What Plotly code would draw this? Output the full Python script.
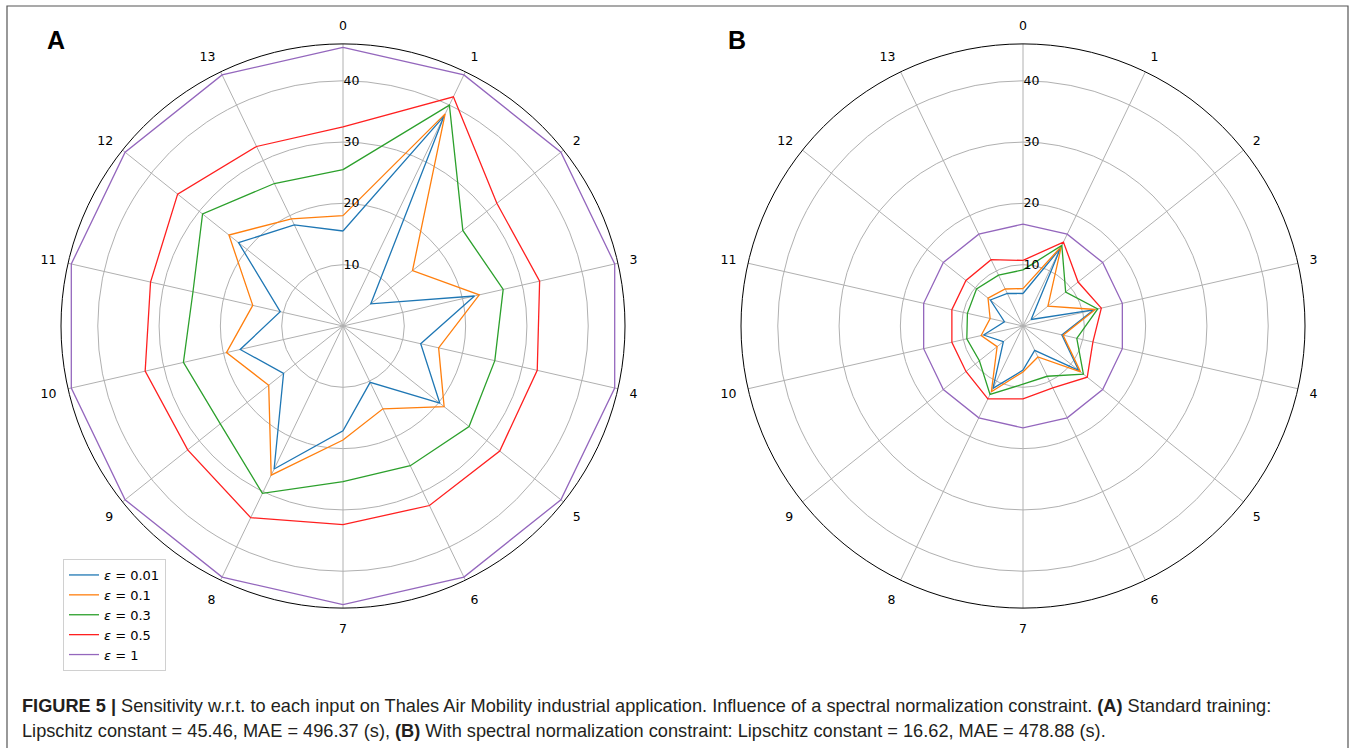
import plotly.graph_objects as go

categories = [str(i) for i in range(14)]
labels = ["<i>ε</i> = 0.01", "<i>ε</i> = 0.1", "<i>ε</i> = 0.3", "<i>ε</i> = 0.5", "<i>ε</i> = 1"]
colors = ["#1f77b4", "#ff7f0e", "#2ca02c", "#ff2020", "#9467bd"]

# Panel A: standard training
a_eps001 = [15.5, 38.0, 5.8, 22.0, 13.0, 20.2, 10.2, 17.1, 25.9, 12.4, 17.2, 10.5, 21.8, 18.3]
a_eps01 = [18.0, 38.4, 14.5, 22.8, 16.0, 21.1, 15.0, 18.6, 27.0, 15.5, 19.5, 15.1, 23.8, 19.4]
a_eps03 = [25.5, 40.0, 25.0, 26.8, 25.4, 26.3, 25.3, 25.4, 30.3, 25.6, 26.7, 25.1, 29.3, 25.8]
a_eps05 = [32.5, 41.5, 32.1, 32.9, 32.5, 32.7, 32.5, 32.4, 34.7, 32.4, 33.1, 32.2, 34.5, 32.5]
a_eps1 = [45.46] * 14

# Panel B: with spectral normalization constraint
b_eps001 = [5.3, 14.1, 1.7, 11.8, 6.5, 11.6, 4.4, 7.2, 11.3, 4.1, 6.6, 3.1, 6.8, 5.9]
b_eps01 = [6.1, 14.4, 5.2, 12.1, 6.7, 12.0, 5.6, 7.5, 11.9, 5.4, 7.0, 5.5, 7.3, 6.7]
b_eps03 = [9.15, 14.6, 8.9, 12.5, 9.0, 12.6, 9.1, 9.5, 12.4, 9.1, 9.4, 9.3, 9.7, 9.2]
b_eps05 = [10.7, 15.2, 11.5, 13.1, 11.7, 13.4, 11.2, 11.9, 13.2, 11.9, 11.9, 11.9, 11.9, 12.0]
b_eps1 = [16.62] * 14

radial_ticks = [10, 20, 30, 40]

series_a = [a_eps001, a_eps01, a_eps03, a_eps05, a_eps1]
series_b = [b_eps001, b_eps01, b_eps03, b_eps05, b_eps1]

fig = go.Figure()

def closed(v):
    return list(v) + [v[0]]

theta = categories + [categories[0]]

for vals, lab, col in zip(series_a, labels, colors):
    fig.add_trace(go.Scatterpolar(r=closed(vals), theta=theta, mode="lines", name=lab,
                                  line=dict(color=col, width=1.3), subplot="polar",
                                  showlegend=True))
for vals, lab, col in zip(series_b, labels, colors):
    fig.add_trace(go.Scatterpolar(r=closed(vals), theta=theta, mode="lines", name=lab,
                                  line=dict(color=col, width=1.3), subplot="polar2",
                                  showlegend=False))

W, H = 1354, 748

def polar_layout(x0, x1, y0, y1):
    return dict(
        domain=dict(x=[x0 / W, x1 / W], y=[1 - y1 / H, 1 - y0 / H]),
        bgcolor="white",
        radialaxis=dict(range=[0, 46], tickvals=radial_ticks, angle=90, tickangle=90,
                        showline=False, ticks="", gridcolor="#b0b0b0", gridwidth=1,
                        tickfont=dict(family="DejaVu Sans", size=12.5, color="black"),
                        side="clockwise"),
        angularaxis=dict(type="category", categoryarray=categories, rotation=90,
                         direction="clockwise", showline=True, linecolor="black",
                         linewidth=1, gridcolor="#b0b0b0", gridwidth=1,
                         ticks="outside", ticklen=9, tickcolor="rgba(0,0,0,0)",
                         tickfont=dict(family="DejaVu Sans", size=12.5, color="black")),
    )

fig.update_layout(
    width=W, height=H,
    margin=dict(l=0, r=0, t=0, b=0),
    paper_bgcolor="white",
    polar=polar_layout(61, 625, 44, 608),
    polar2=polar_layout(741, 1305, 44, 608),
    showlegend=True,
    legend=dict(x=63 / W, y=1 - 559 / H, xanchor="left", yanchor="top",
                bgcolor="white", bordercolor="#d0d0d0", borderwidth=1,
                font=dict(family="DejaVu Sans", size=13, color="black"),
                itemwidth=30, tracegroupgap=0),
    font=dict(family="DejaVu Sans"),
)

fig.add_shape(type="rect", xref="paper", yref="paper", x0=7 / W, x1=1348 / W, y0=-0.01, y1=1 - 6 / H,
              line=dict(color="#555555", width=1.2), fillcolor="rgba(0,0,0,0)")

fig.add_annotation(text="<b>A</b>", x=56 / W, y=1 - 40 / H, xref="paper", yref="paper",
                   xanchor="center", yanchor="middle",
                   showarrow=False, font=dict(family="Liberation Sans", size=25, color="black"))
fig.add_annotation(text="<b>B</b>", x=737 / W, y=1 - 40 / H, xref="paper", yref="paper",
                   xanchor="center", yanchor="middle",
                   showarrow=False, font=dict(family="Liberation Sans", size=25, color="black"))

cap_font = dict(family="Liberation Sans", size=18.2, color="#231f20")
fig.add_annotation(
    text="<b>FIGURE 5 |</b> Sensitivity w.r.t. to each input on Thales Air Mobility industrial application. "
         "Influence of a spectral normalization constraint. <b>(A)</b> Standard training:",
    x=20 / W, y=1 - 706 / H, xref="paper", yref="paper", xanchor="left", yanchor="middle",
    showarrow=False, font=cap_font)
fig.add_annotation(
    text="Lipschitz constant = 45.46, MAE = 496.37 (s), <b>(B)</b> With spectral normalization constraint: "
         "Lipschitz constant = 16.62, MAE = 478.88 (s).",
    x=20 / W, y=1 - 731 / H, xref="paper", yref="paper", xanchor="left", yanchor="middle",
    showarrow=False, font=cap_font)

fig.write_html("out.html", config={"displayModeBar": False},
               post_script="document.body.style.margin='0px';")
